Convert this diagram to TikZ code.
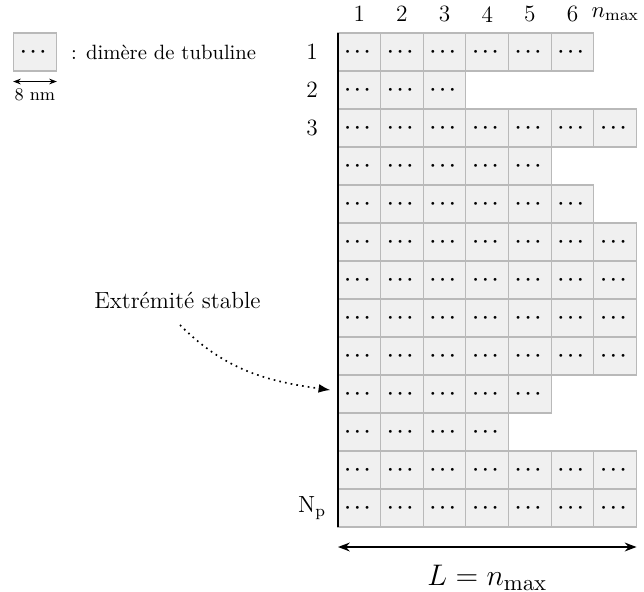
\documentclass[tikz,border=0pt]{standalone}
\usepackage{amsmath, amssymb}
\usepackage{tikz}
\usetikzlibrary{arrows.meta,positioning}

\tikzset{
    cell/.style={draw=gray!55, fill=gray!12, line width=0.5pt, inner sep=0pt,
        minimum width=0.725cm, minimum height=0.646cm, font=\fontsize{8.6}{10}\selectfont\boldmath},
    numlab/.style={inner sep=1pt, font=\fontsize{11.3}{13}\selectfont}
}

\begin{document}
\begin{tikzpicture}
            \useasboundingbox (-5.746,0.561) rectangle (5.202,-9.503);
            \def\cw{0.725}
            \def\ch{0.646}
            % the cells, one row per protofilament
            \foreach \len [count=\r] in {6,3,7,5,6,7,7,7,7,5,4,7,7}
                \foreach \c in {1,...,\len}
                    \node[cell] (c\r-\c) at ({(\c-0.5)*\cw},{-(\r-0.5)*\ch}) {$\cdots$};
            % column numbers
            \foreach \c/\t in {1/1,2/2,3/3,4/4,5/5,6/6,7/{$n_{\max}$}}
                \node[numlab] (col\c) at ({(\c-0.5)*\cw},0.32) {\t};
            % row numbers
            \node[numlab] (row1) at (-0.44,{-0.5*\ch}) {1};
            \node[numlab] (row2) at (-0.44,{-1.5*\ch}) {2};
            \node[numlab] (row3) at (-0.44,{-2.5*\ch}) {3};
            \node[numlab] (rowNp) at (-0.44,{-12.5*\ch}) {N$_\text{p}$};
            % stable end
            \coordinate (top) at (0,0);
            \coordinate (bot) at (0,{-13*\ch});
            \draw[line width=1.3pt] (top) -- (bot);
            % length
            \coordinate (lenL) at (0,-8.738);
            \coordinate (lenR) at ({7*\cw},-8.738);
            \draw[{Stealth[length=2mm]}-{Stealth[length=2mm]}, thick] (lenL) -- (lenR);
            \node[font=\fontsize{15.8}{18}\selectfont] (len) at ({3.5*\cw},-9.265) {$L = n_{\max}$};
            % legend
            \node[cell] (leg) at (-5.151,{-0.5*\ch}) {$\cdots$};
            \node[right=0.12cm of leg] (legtxt) {: dimère de tubuline};
            \coordinate[below=0.17cm of leg.south west] (legL);
            \coordinate[below=0.17cm of leg.south east] (legR);
            \draw[{Stealth[length=1.3mm]}-{Stealth[length=1.3mm]}] (legL) -- (legR);
            \node[below=0.0cm of legL, xshift=0.37cm, font=\fontsize{8.6}{10}\selectfont] (nm) {8 nm};
            % pointer to the stable end
            \node[numlab] (stab) at (-2.73,-4.54) {Extrémité stable};
            \coordinate (stabA) at (-2.686,-4.964);
            \coordinate (stabB) at (-0.13,-6.07);
            \draw[dotted, thick, -{Latex[length=2mm]}] (stabA) to[out=-45, in=172] (stabB);
\end{tikzpicture}
\end{document}
